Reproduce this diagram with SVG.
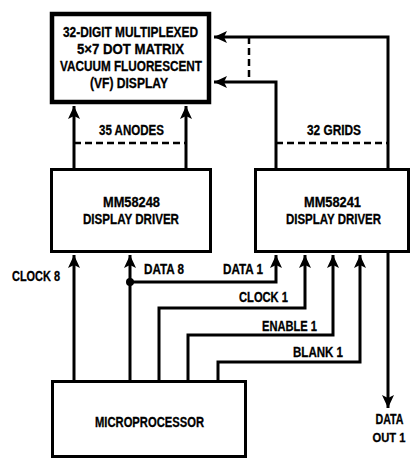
<svg xmlns="http://www.w3.org/2000/svg" width="411" height="458" viewBox="0 0 411 458">
<defs>
<marker id="ah" markerUnits="userSpaceOnUse" markerWidth="14" markerHeight="14" viewBox="0 0 14 14" refX="13" refY="7" orient="auto">
<path d="M0,1 L13,7 L0,13 L3,7 Z" fill="#000"/>
</marker>
</defs>
<style>
.box{fill:#fff;stroke:#000;stroke-width:3}
.big{stroke-width:4.5}
.ln{fill:none;stroke:#000;stroke-width:3}
.ar{marker-end:url(#ah)}
.da{fill:none;stroke:#000;stroke-width:2.5;stroke-dasharray:7 4}
text{font-family:"Liberation Sans",Arial,sans-serif;font-weight:bold;font-size:14px;fill:#000;stroke:#000;stroke-width:0.3}
.m{text-anchor:middle}
.s{font-size:13.5px}
</style>
<g id="connectors">
<polyline class="ln ar" points="388,169 388,37 214,37"/>
<polyline class="ln ar" points="276,169 276,82 214,82"/>
<line class="da" x1="249" y1="37" x2="249" y2="82"/>
<line class="ln ar" x1="74" y1="169" x2="74" y2="106"/>
<line class="ln ar" x1="186" y1="169" x2="186" y2="106"/>
<line class="da" x1="74" y1="143" x2="186" y2="143"/>
<line class="da" x1="276" y1="143" x2="388" y2="143"/>
<line class="ln ar" x1="74" y1="381" x2="74" y2="255"/>
<line class="ln ar" x1="130" y1="381" x2="130" y2="255"/>
<polyline class="ln ar" points="130,282 276,282 276,255"/>
<circle cx="130" cy="282" r="4" fill="#000"/>
<polyline class="ln ar" points="159,381 159,308 305,308 305,255"/>
<polyline class="ln ar" points="188,381 188,335 333,335 333,255"/>
<polyline class="ln ar" points="218,381 218,362 360,362 360,255"/>
<line class="ln ar" x1="388" y1="253" x2="388" y2="408"/>
<text x="12" y="281" textLength="48" lengthAdjust="spacingAndGlyphs">CLOCK 8</text>
<text x="144" y="274" textLength="40" lengthAdjust="spacingAndGlyphs">DATA 8</text>
<text x="223" y="274" textLength="40" lengthAdjust="spacingAndGlyphs">DATA 1</text>
<text x="239" y="302" textLength="49" lengthAdjust="spacingAndGlyphs">CLOCK 1</text>
<text x="262" y="331" textLength="55" lengthAdjust="spacingAndGlyphs">ENABLE 1</text>
<text x="293" y="357" textLength="50" lengthAdjust="spacingAndGlyphs">BLANK 1</text>
<text x="99" y="135" textLength="65" lengthAdjust="spacingAndGlyphs">35 ANODES</text>
<text x="307" y="135" textLength="54" lengthAdjust="spacingAndGlyphs">32 GRIDS</text>
<text class="m" x="389.5" y="424" textLength="28" lengthAdjust="spacingAndGlyphs">DATA</text>
<text class="m s" x="389" y="442" textLength="33" lengthAdjust="spacingAndGlyphs">OUT 1</text>
</g>
<g id="vf-display">
<rect class="box big" x="52" y="14" width="157" height="88"/>
<text x="63" y="37" textLength="135" lengthAdjust="spacingAndGlyphs">32-DIGIT MULTIPLEXED</text>
<text x="77" y="54" textLength="107" lengthAdjust="spacingAndGlyphs">5×7 DOT MATRIX</text>
<text x="60" y="71" textLength="142" lengthAdjust="spacingAndGlyphs">VACUUM FLUORESCENT</text>
<text x="90" y="88" textLength="78" lengthAdjust="spacingAndGlyphs">(VF) DISPLAY</text>
</g>
<g id="mm58248">
<rect class="box" x="51.5" y="169.5" width="159" height="82"/>
<text x="103" y="207" textLength="57" lengthAdjust="spacingAndGlyphs">MM58248</text>
<text x="83" y="224" textLength="96" lengthAdjust="spacingAndGlyphs">DISPLAY DRIVER</text>
</g>
<g id="mm58241">
<rect class="box" x="255.5" y="169.5" width="153" height="82"/>
<text x="304" y="207" textLength="57" lengthAdjust="spacingAndGlyphs">MM58241</text>
<text x="286" y="224" textLength="95" lengthAdjust="spacingAndGlyphs">DISPLAY DRIVER</text>
</g>
<g id="microprocessor">
<rect class="box" x="52.5" y="381.5" width="193" height="75"/>
<text x="95" y="427" textLength="109" lengthAdjust="spacingAndGlyphs">MICROPROCESSOR</text>
</g>
</svg>
